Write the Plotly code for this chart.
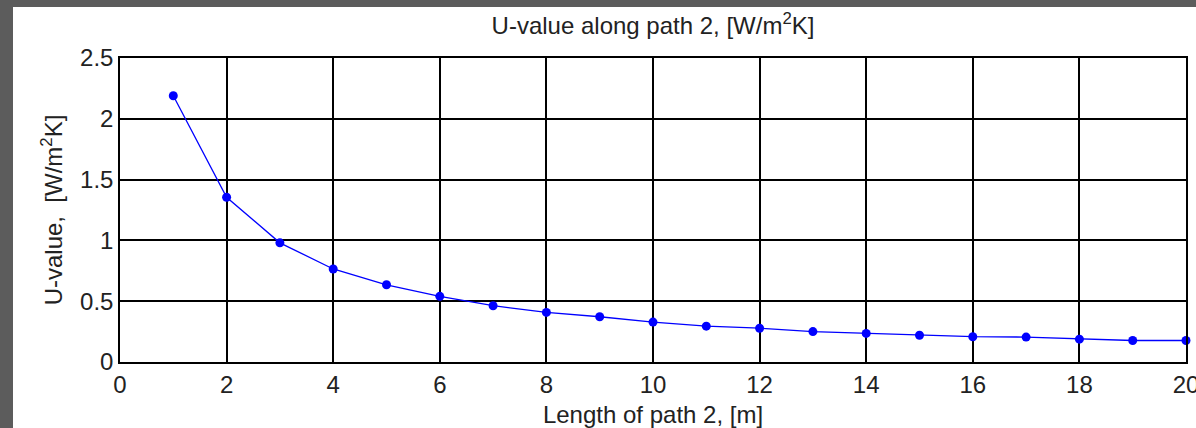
import plotly.graph_objects as go

path_length_m = [1, 2, 3, 4, 5, 6, 7, 8, 9, 10, 11, 12, 13, 14, 15, 16, 17, 18, 19, 20]
u_value = [2.19, 1.355, 0.98, 0.765, 0.635, 0.54, 0.463, 0.408, 0.372, 0.328,
           0.295, 0.278, 0.25, 0.235, 0.22, 0.208, 0.205, 0.188, 0.177, 0.177]
x_ticks = [0, 2, 4, 6, 8, 10, 12, 14, 16, 18, 20]
y_ticks = [0, 0.5, 1, 1.5, 2, 2.5]
y_tick_text = ["0", "0.5", "1", "1.5", "2", "2.5"]

W, H = 1196, 428
L, R, T, B = 120, 10, 58, 66
pw, ph = W - L - R, H - T - B

FONT = "Liberation Sans, Arial, sans-serif"
TXT = "#222222"

fig = go.Figure()
fig.add_trace(go.Scatter(
    x=path_length_m, y=u_value, mode="lines+markers",
    line=dict(color="#0000ff", width=1.3),
    marker=dict(color="#0000ff", size=9),
    cliponaxis=False, showlegend=False,
))

axis_common = dict(
    showline=True, linecolor="black", linewidth=1.5, mirror=True,
    showgrid=True, gridcolor="black", gridwidth=1.5,
    zeroline=False, ticks="inside", ticklen=3, tickcolor="black",
    tickfont=dict(family=FONT, size=24, color=TXT),
    automargin=False, ticklabeloverflow="allow",
)

fig.update_xaxes(range=[0, 20], tickvals=x_ticks, **axis_common,
                 title=dict(text="Length of path 2, [m]", standoff=10,
                            font=dict(family=FONT, size=24, color=TXT)))
fig.update_yaxes(range=[0, 2.5], tickvals=y_ticks, ticktext=y_tick_text, **axis_common,
                 title=dict(text="U-value,  [W/m<sup>2</sup>K]", standoff=11,
                            font=dict(family=FONT, size=24, color=TXT)))

# white figure region over a dark gray surround (screenshot frame)
fig.add_shape(type="rect", xref="paper", yref="paper", layer="below",
              x0=(13 - L) / pw, x1=1.5,
              y0=-1.0, y1=(H - B - 7) / ph,
              fillcolor="white", line=dict(width=0))

fig.update_layout(
    width=W, height=H,
    margin=dict(l=L, r=R, t=T, b=B),
    paper_bgcolor="#5c5c5c", plot_bgcolor="white",
    title=dict(text="U-value along path 2, [W/m<sup>2</sup>K]", x=0.5, xref="paper",
               y=(H - 26) / H, yanchor="middle", automargin=False,
               font=dict(family=FONT, size=24, color=TXT)),
)

fig.write_html("out.html", config={"displayModeBar": False},
               post_script="document.body.style.margin='0';document.body.style.overflow='hidden';")
